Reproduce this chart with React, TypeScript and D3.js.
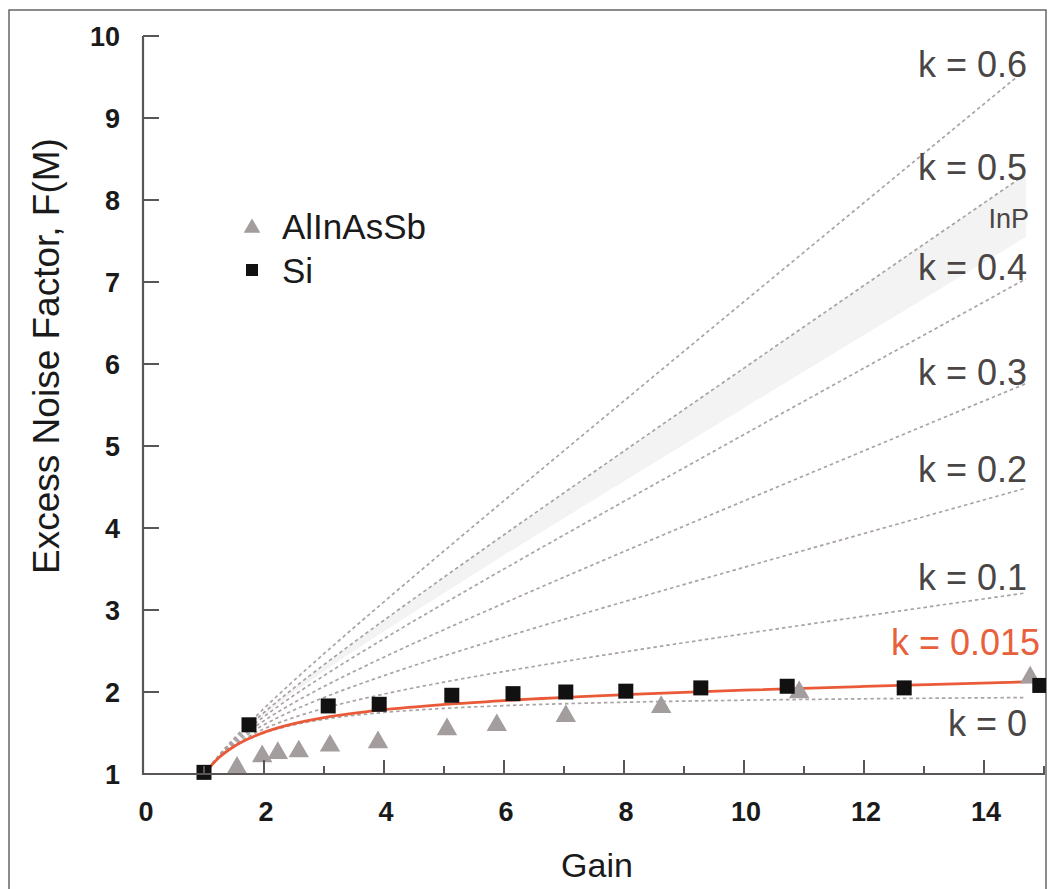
import React, { useEffect, useRef } from 'react';
import * as d3 from 'd3';

// gain sample points for the dashed k curves
const gains = [1, 1.25, 1.5, 1.75, 2, 2.5, 3, 4, 5, 6, 8, 10, 12, 14.7];
const kNames = ['k = 0', 'k = 0.1', 'k = 0.2', 'k = 0.3', 'k = 0.4', 'k = 0.5', 'k = 0.6'];
const k0 = [1, 1.2, 1.333, 1.429, 1.5, 1.6, 1.667, 1.75, 1.8, 1.833, 1.875, 1.9, 1.917, 1.932];
const k01 = [1, 1.205, 1.35, 1.461, 1.55, 1.69, 1.8, 1.975, 2.12, 2.25, 2.488, 2.71, 2.925, 3.209];
const k02 = [1, 1.21, 1.367, 1.493, 1.6, 1.78, 1.933, 2.2, 2.44, 2.667, 3.1, 3.52, 3.933, 4.486];
const k03 = [1, 1.215, 1.383, 1.525, 1.65, 1.87, 2.067, 2.425, 2.76, 3.083, 3.713, 4.33, 4.942, 5.762];
const k04 = [1, 1.22, 1.4, 1.557, 1.7, 1.96, 2.2, 2.65, 3.08, 3.5, 4.325, 5.14, 5.95, 7.039];
const k05 = [1, 1.225, 1.417, 1.589, 1.75, 2.05, 2.333, 2.875, 3.4, 3.917, 4.938, 5.95, 6.958, 8.316];
const k06 = [1, 1.23, 1.433, 1.621, 1.8, 2.14, 2.467, 3.1, 3.72, 4.333, 5.55, 6.76, 7.967, 9.593];
const kCurves = [k0, k01, k02, k03, k04, k05, k06];

// InP shaded band
const inpLow = [1, 1.222, 1.407, 1.57, 1.72, 1.996, 2.253, 2.74, 3.208, 3.667, 4.57, 5.464, 6.353, 7.55];
const inpHigh = [1, 1.225, 1.417, 1.589, 1.75, 2.05, 2.333, 2.875, 3.4, 3.917, 4.938, 5.95, 6.958, 8.316];

// k = 0.015 fit
const fitGains = [1, 1.25, 1.5, 1.75, 2, 2.5, 3, 4, 5, 6, 8, 10, 12, 15];
const fitF = [1, 1.201, 1.336, 1.433, 1.508, 1.614, 1.687, 1.784, 1.848, 1.896, 1.967, 2.022, 2.068, 2.129];

// measured points
const siGain = [1, 1.75, 3.07, 3.92, 5.13, 6.15, 7.03, 8.03, 9.28, 10.72, 12.67, 14.93];
const siF = [1.02, 1.6, 1.83, 1.85, 1.96, 1.98, 2.0, 2.01, 2.05, 2.07, 2.05, 2.08];
const alGain = [1.55, 1.97, 2.23, 2.58, 3.1, 3.9, 5.05, 5.88, 7.03, 8.62, 10.92, 14.77];
const alF = [1.1, 1.24, 1.28, 1.3, 1.37, 1.41, 1.57, 1.62, 1.73, 1.84, 2.02, 2.2];

const xTicks = [0, 2, 4, 6, 8, 10, 12, 14];
const xMinor = [1, 3, 5, 7, 9, 11, 13, 15];
const yTicks = [1, 2, 3, 4, 5, 6, 7, 8, 9, 10];

const W = 1049;
const H = 889;
const FONT = "'Liberation Sans', Arial, sans-serif";

const NoiseChart = () => {
  const ref = useRef<SVGSVGElement>(null);

  useEffect(() => {
    const svg = d3.select(ref.current);
    svg.selectAll('*').remove();

    const x = d3.scaleLinear().domain([0, 15]).range([144, 1044]);
    const y = d3.scaleLinear().domain([1, 10]).range([774, 36]);

    svg.append('rect').attr('width', W).attr('height', H).attr('fill', '#fff');
    // outer frame
    svg.append('rect')
      .attr('x', 9).attr('y', 10).attr('width', 1037).attr('height', 900)
      .attr('fill', 'none').attr('stroke', '#666').attr('stroke-width', 1.5);

    const clip = svg.append('defs').append('clipPath').attr('id', 'plotclip');
    clip.append('rect').attr('x', 143).attr('y', 20).attr('width', 903).attr('height', 760);

    const plot = svg.append('g').attr('clip-path', 'url(#plotclip)');

    // InP band
    const area = d3.area<number>()
      .x((d, i) => x(gains[i]))
      .y0((d, i) => y(inpLow[i]))
      .y1(d => y(d))
      .curve(d3.curveMonotoneX);
    plot.append('path').attr('d', area(inpHigh)).attr('fill', '#f3f3f3');

    const line = d3.line<number>()
      .x((d, i) => x(gains[i]))
      .y(d => y(d))
      .curve(d3.curveMonotoneX);

    kCurves.forEach(c => {
      plot.append('path')
        .attr('d', line(c))
        .attr('fill', 'none')
        .attr('stroke', '#aba3a3')
        .attr('stroke-width', 1.7)
        .attr('stroke-dasharray', '3.5 3');
    });

    const fitLine = d3.line<number>()
      .x((d, i) => x(fitGains[i]))
      .y(d => y(d))
      .curve(d3.curveMonotoneX);
    plot.append('path')
      .attr('d', fitLine(fitF))
      .attr('fill', 'none')
      .attr('stroke', '#ea5a38')
      .attr('stroke-width', 2.8);

    const tri = d3.symbol().type(d3.symbolTriangle).size(180);
    plot.selectAll('.tri')
      .data(alF)
      .enter()
      .append('path')
      .attr('class', 'tri')
      .attr('d', tri)
      .attr('transform', (d, i) => `translate(${x(alGain[i])},${y(d) + 2})`)
      .attr('fill', '#a39d9d');

    plot.selectAll('.sq')
      .data(siF)
      .enter()
      .append('rect')
      .attr('class', 'sq')
      .attr('x', (d, i) => x(siGain[i]) - 7.5)
      .attr('y', d => y(d) - 7.5)
      .attr('width', 15)
      .attr('height', 15)
      .attr('fill', '#111');

    // axes
    const axisColor = '#5a5656';
    svg.append('line')
      .attr('x1', 143).attr('x2', 143).attr('y1', y(10)).attr('y2', y(1) + 1)
      .attr('stroke', axisColor).attr('stroke-width', 2.2);
    svg.append('line')
      .attr('x1', 142).attr('x2', x(15) + 1).attr('y1', y(1)).attr('y2', y(1))
      .attr('stroke', axisColor).attr('stroke-width', 2.2);

    yTicks.forEach(t => {
      svg.append('line')
        .attr('x1', 143).attr('x2', 159).attr('y1', y(t)).attr('y2', y(t))
        .attr('stroke', axisColor).attr('stroke-width', 2);
      svg.append('text')
        .attr('x', 120).attr('y', y(t)).attr('dy', '0.36em')
        .attr('text-anchor', 'end')
        .style('font-family', FONT).style('font-size', '27px').style('font-weight', 'bold')
        .attr('fill', '#1a1a1a')
        .text(t);
    });

    xTicks.forEach(t => {
      if (t > 0) {
        svg.append('line')
          .attr('x1', x(t)).attr('x2', x(t)).attr('y1', y(1)).attr('y2', y(1) - 14)
          .attr('stroke', axisColor).attr('stroke-width', 2);
      }
      svg.append('text')
        .attr('x', x(t) + 2).attr('y', 821)
        .attr('text-anchor', 'middle')
        .style('font-family', FONT).style('font-size', '27px').style('font-weight', 'bold')
        .attr('fill', '#1a1a1a')
        .text(t);
    });
    xMinor.forEach(t => {
      svg.append('line')
        .attr('x1', x(t)).attr('x2', x(t)).attr('y1', y(1)).attr('y2', y(1) - 8)
        .attr('stroke', axisColor).attr('stroke-width', 2);
    });

    // axis titles
    svg.append('text')
      .attr('transform', 'translate(59,356) rotate(-90)')
      .attr('text-anchor', 'middle')
      .style('font-family', FONT).style('font-size', '37px')
      .attr('fill', '#1a1a1a')
      .text('Excess Noise Factor, F(M)');
    svg.append('text')
      .attr('x', 597).attr('y', 877)
      .attr('text-anchor', 'middle')
      .style('font-family', FONT).style('font-size', '34px')
      .attr('fill', '#1a1a1a')
      .text('Gain');

    // k labels
    const kLabelY = [736, 590, 482, 385, 280, 180, 77];
    kNames.forEach((n, i) => {
      svg.append('text')
        .attr('x', 1027).attr('y', kLabelY[i])
        .attr('text-anchor', 'end')
        .style('font-family', FONT).style('font-size', '36px')
        .attr('fill', '#4a4646')
        .text(n);
    });
    svg.append('text')
      .attr('x', 1029).attr('y', 228)
      .attr('text-anchor', 'end')
      .style('font-family', FONT).style('font-size', '27px')
      .attr('fill', '#4a4646')
      .text('InP');
    svg.append('text')
      .attr('x', 1040).attr('y', 655)
      .attr('text-anchor', 'end')
      .style('font-family', FONT).style('font-size', '36px')
      .attr('fill', '#e8603c')
      .text('k = 0.015');

    // legend
    svg.append('path')
      .attr('d', d3.symbol().type(d3.symbolTriangle).size(120)())
      .attr('transform', 'translate(252,228)')
      .attr('fill', '#a39d9d');
    svg.append('rect')
      .attr('x', 246).attr('y', 264).attr('width', 12).attr('height', 12)
      .attr('fill', '#111');
    svg.append('text')
      .attr('x', 282).attr('y', 239)
      .style('font-family', FONT).style('font-size', '35px')
      .attr('fill', '#1a1a1a')
      .text('AlInAsSb');
    svg.append('text')
      .attr('x', 282).attr('y', 283)
      .style('font-family', FONT).style('font-size', '35px')
      .attr('fill', '#1a1a1a')
      .text('Si');
  }, []);

  return (
    <svg
      ref={ref}
      width={W}
      height={H}
      style={{ position: 'fixed', left: 0, top: 0, display: 'block' }}
    ></svg>
  );
};

export default function App() {
  return <NoiseChart />;
}
